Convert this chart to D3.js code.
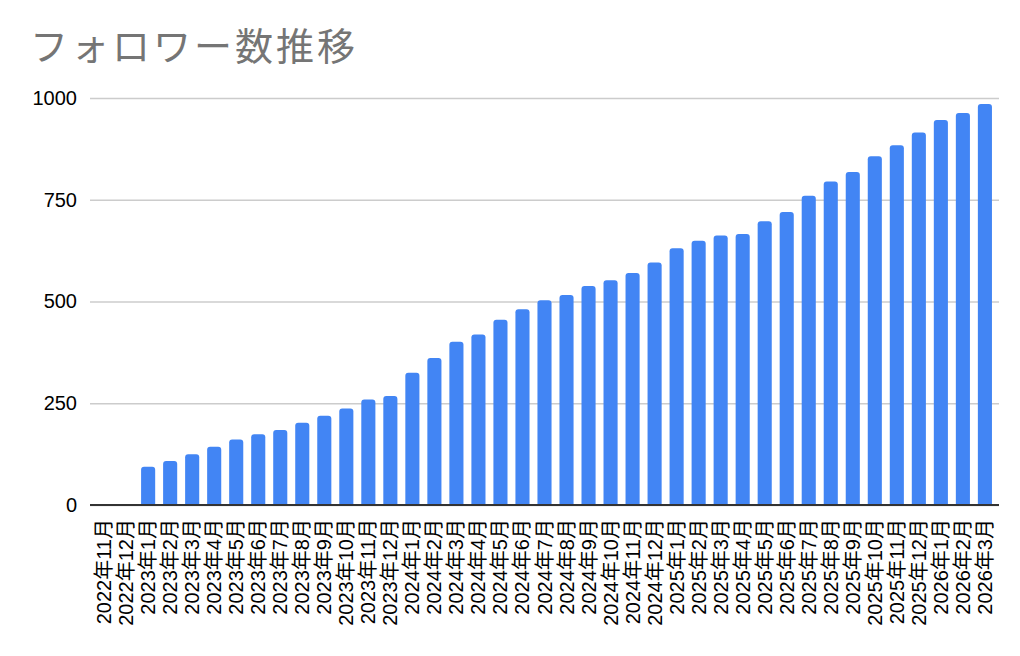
<!DOCTYPE html>
<html>
<head>
<meta charset="utf-8">
<script src="https://cdn.jsdelivr.net/npm/d3@7"></script>
<style>
    body { margin: 0; background: #fff; }
    svg { display: block; }
    text { font-family: "Liberation Sans", Arial, "Noto Sans CJK JP", sans-serif; }
</style>
</head>
<body>
<svg width="1020" height="656"></svg>
<script>
const title = "フォロワー数推移"

const months = [
    "2022年11月", "2022年12月",
    "2023年1月", "2023年2月", "2023年3月", "2023年4月", "2023年5月", "2023年6月",
    "2023年7月", "2023年8月", "2023年9月", "2023年10月", "2023年11月", "2023年12月",
    "2024年1月", "2024年2月", "2024年3月", "2024年4月", "2024年5月", "2024年6月",
    "2024年7月", "2024年8月", "2024年9月", "2024年10月", "2024年11月", "2024年12月",
    "2025年1月", "2025年2月", "2025年3月", "2025年4月", "2025年5月", "2025年6月",
    "2025年7月", "2025年8月", "2025年9月", "2025年10月", "2025年11月", "2025年12月",
    "2026年1月", "2026年2月", "2026年3月"
]

const followers = [
    null, null,
    94, 108, 125, 143, 161, 174, 184, 202, 219, 237, 259, 268,
    325, 361, 401, 419, 455, 481, 503, 516, 538, 552, 570, 596,
    631, 649, 662, 666, 697, 720, 760, 795, 818, 857, 884, 915,
    946, 963, 985
]

const yTicks = [0, 250, 500, 750, 1000]

window.addEventListener('load', () => {
    draw()
})

function draw() {
    const svg = d3.select("svg")
    const left = 90, right = 999, top = 98, bottom = 505

    svg.append("text")
        .attr("x", 30)
        .attr("y", 60)
        .attr("fill", "#757575")
        .style("font-size", "38px")
        .style("font-family", "'Noto Sans CJK JP', sans-serif")
        .style("letter-spacing", "3px")
        .text(title)

    const data = months.map((m, i) => ({month: m, value: followers[i]}))

    const x = d3.scaleBand()
        .domain(months)
        .range([left, right])
        .paddingInner(0.36)
        .paddingOuter(0.32)

    const y = d3.scaleLinear()
        .domain([0, 1000])
        .range([bottom, top])

    // grid lines
    const yAxis = svg.append("g")
        .attr("transform", "translate(" + left + ",0)")
        .call(d3.axisLeft(y).tickValues(yTicks).tickFormat(d3.format("d"))
            .tickSize(-(right - left)).tickPadding(13))
    yAxis.select(".domain").remove()
    yAxis.selectAll(".tick line")
        .attr("stroke", "#cccccc")
        .attr("stroke-width", 1.5)
    yAxis.selectAll(".tick text")
        .attr("fill", "#000")
        .style("font-size", "20px")
        .style("font-family", "'Liberation Sans', Arial, sans-serif")

    // bars with rounded top corners
    const r = 3
    svg.append("g")
        .selectAll("path")
        .data(data.filter(d => d.value != null))
        .enter().append("path")
        .attr("fill", "#4285f4")
        .attr("d", d => {
            const x0 = x(d.month), w = x.bandwidth()
            const y0 = y(d.value), yb = y(0)
            return "M" + x0 + "," + yb +
                "V" + (y0 + r) +
                "Q" + x0 + "," + y0 + " " + (x0 + r) + "," + y0 +
                "H" + (x0 + w - r) +
                "Q" + (x0 + w) + "," + y0 + " " + (x0 + w) + "," + (y0 + r) +
                "V" + yb + "Z"
        })

    // baseline
    svg.append("line")
        .attr("x1", left).attr("x2", right)
        .attr("y1", y(0)).attr("y2", y(0))
        .attr("stroke", "#333333")
        .attr("stroke-width", 2)

    // x labels
    const xAxis = svg.append("g")
        .attr("transform", "translate(0," + bottom + ")")
        .call(d3.axisBottom(x).tickSize(0).tickPadding(0))
    xAxis.select(".domain").remove()
    xAxis.selectAll(".tick text")
        .attr("transform", "rotate(-90)")
        .attr("text-anchor", "end")
        .attr("x", -14)
        .attr("y", 0)
        .attr("dy", "0.35em")
        .attr("fill", "#000")
        .style("font-size", "20px")
}
</script>
</body>
</html>
